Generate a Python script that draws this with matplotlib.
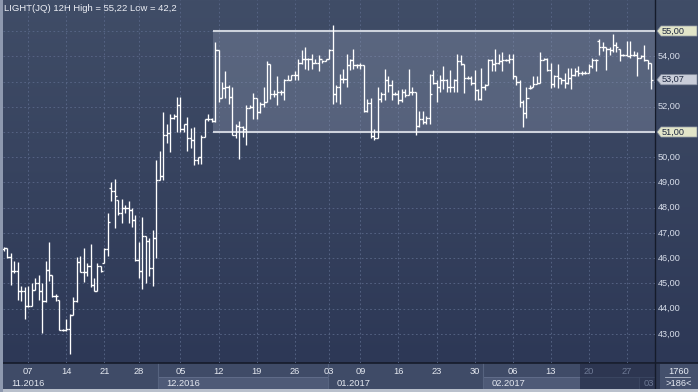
import matplotlib
matplotlib.use("Agg")
import matplotlib.pyplot as plt
import matplotlib.transforms as mtransforms
from matplotlib.patches import Rectangle, Polygon
import numpy as np

plt.rcParams['font.family'] = ['Liberation Sans', 'DejaVu Sans']

# 12H OHLC bars
opens = [46.35, 46.40, 46.05, 45.50, 45.50, 44.70, 44.70, 44.10, 44.10, 44.75,
         45.00, 44.70, 44.30, 45.55, 45.35, 44.50, 44.35, 43.15, 43.15, 43.20,
         43.75, 44.30, 45.85, 45.45, 45.45, 45.70, 44.95, 44.70, 45.70, 45.80,
         46.35, 48.80, 48.65, 48.30, 47.80, 48.00, 48.00, 47.90, 47.50, 45.95,
         45.50, 46.90, 46.70, 45.60, 46.80, 49.10, 49.25, 50.90, 50.95, 51.55,
         51.65, 52.05, 51.10, 51.30, 50.75, 50.70, 49.90, 50.00, 50.80, 51.50,
         51.50, 51.45, 54.25, 52.35, 52.75, 52.80, 52.40, 50.90, 51.25, 51.20,
         51.10, 51.95, 52.00, 52.35, 51.80, 52.10, 52.20, 53.70, 52.50, 52.50,
         52.60, 52.60, 53.05, 53.05, 53.25, 53.25, 53.75, 53.90, 53.90, 53.90,
         53.75, 53.75, 53.90, 53.80, 53.90, 54.25, 52.50, 52.80, 53.10, 53.10,
         53.65, 53.85, 53.65, 53.65, 53.65, 51.85, 52.15, 50.85, 50.75, 52.30,
         52.50, 53.05, 52.85, 52.50, 52.50, 52.25, 52.60, 52.45, 52.60, 52.60,
         51.25, 51.50, 51.40, 51.55, 53.25, 52.95, 52.80, 53.05, 53.05, 52.80,
         52.80, 53.05, 53.80, 53.70, 53.15, 53.15, 52.95, 52.65, 52.30, 52.80,
         52.85, 53.85, 53.70, 53.75, 53.80, 53.85, 53.85, 53.90, 53.20, 53.00,
         52.20, 51.75, 52.75, 52.80, 52.90, 52.95, 53.85, 53.90, 53.45, 52.90,
         53.20, 53.15, 53.05, 52.95, 53.15, 53.25, 53.40, 53.35, 53.35, 53.35,
         53.60, 53.85, 54.60, 54.35, 54.35, 54.30, 54.25, 54.45, 54.30, 54.05,
         54.05, 54.00, 54.05, 54.05, 53.95, 54.00, 53.85, 53.75]
highs = [46.45, 46.40, 46.20, 45.90, 45.85, 44.90, 44.85, 44.90, 45.00, 45.20,
         45.35, 45.00, 45.90, 46.65, 45.35, 44.60, 44.35, 43.20, 43.60, 43.80,
         44.45, 46.05, 46.10, 46.40, 45.80, 46.55, 45.20, 45.80, 45.70, 46.40,
         47.80, 49.00, 49.15, 48.30, 48.35, 48.10, 48.25, 48.00, 47.70, 46.65,
         47.65, 46.90, 46.80, 47.10, 49.90, 50.25, 51.80, 51.30, 51.70, 51.70,
         52.40, 52.40, 51.30, 51.60, 51.15, 51.20, 50.00, 50.90, 51.50, 51.70,
         51.55, 54.55, 54.25, 53.00, 53.40, 52.85, 52.80, 51.30, 51.45, 51.25,
         52.05, 52.05, 52.55, 52.35, 52.20, 52.80, 53.80, 53.70, 52.65, 53.20,
         52.65, 53.10, 53.25, 53.25, 53.40, 53.90, 54.25, 54.35, 53.95, 54.10,
         53.90, 54.05, 53.85, 53.90, 54.30, 55.22, 52.85, 53.30, 53.50, 54.10,
         53.90, 54.30, 53.70, 53.75, 53.65, 52.30, 52.35, 51.10, 52.80, 52.60,
         53.50, 53.20, 53.05, 52.60, 52.65, 52.70, 52.70, 53.50, 52.80, 52.60,
         51.85, 51.85, 51.65, 53.30, 53.45, 53.05, 53.25, 53.60, 53.10, 53.45,
         53.10, 54.10, 54.05, 53.70, 53.20, 53.20, 53.45, 52.70, 53.55, 52.90,
         53.90, 53.90, 54.30, 54.10, 54.15, 53.90, 54.10, 54.10, 53.20, 53.05,
         52.25, 52.80, 52.85, 53.20, 53.20, 54.15, 53.95, 53.95, 53.75, 53.25,
         53.70, 53.15, 53.35, 53.55, 53.55, 53.55, 53.60, 53.40, 53.40, 53.70,
         53.95, 53.90, 54.70, 54.55, 54.35, 54.35, 54.90, 54.55, 54.30, 54.10,
         54.60, 54.60, 54.20, 54.15, 54.05, 54.45, 53.85, 53.75]
lows = [46.30, 46.00, 44.95, 45.40, 44.35, 44.30, 43.60, 44.05, 44.10, 44.75,
        44.35, 43.05, 44.25, 45.10, 44.45, 44.30, 43.15, 43.10, 43.10, 42.20,
        43.75, 44.25, 45.45, 45.05, 45.30, 44.85, 44.70, 44.70, 45.45, 45.80,
        46.10, 48.25, 47.20, 47.70, 47.40, 47.80, 47.40, 47.25, 45.90, 45.20,
        44.80, 45.00, 45.30, 44.90, 46.00, 49.10, 49.10, 50.55, 50.20, 51.50,
        51.00, 51.00, 51.00, 50.25, 50.35, 49.70, 49.75, 49.75, 50.80, 51.45,
        51.40, 51.40, 52.20, 52.35, 52.35, 52.10, 50.90, 50.75, 49.95, 50.80,
        50.50, 51.95, 51.50, 51.50, 51.75, 52.00, 52.20, 52.30, 52.40, 52.05,
        52.45, 52.25, 53.05, 53.05, 53.05, 53.05, 53.70, 53.50, 53.45, 53.50,
        53.75, 53.40, 53.75, 53.80, 53.90, 52.10, 52.20, 52.10, 52.95, 52.80,
        53.45, 53.50, 53.55, 53.50, 51.80, 51.80, 50.75, 50.70, 50.75, 52.20,
        52.25, 52.60, 52.25, 52.45, 52.10, 52.20, 52.40, 52.45, 52.45, 50.90,
        51.20, 51.30, 51.30, 51.30, 52.90, 52.20, 52.60, 52.70, 52.60, 52.60,
        52.60, 52.60, 53.65, 52.55, 53.10, 52.85, 52.25, 52.25, 52.25, 52.65,
        52.85, 53.40, 53.40, 53.70, 53.40, 53.80, 53.75, 53.10, 52.85, 52.00,
        51.20, 51.55, 52.70, 52.80, 52.90, 52.95, 53.85, 53.40, 52.75, 52.80,
        52.75, 52.90, 52.75, 52.90, 52.70, 53.20, 53.20, 53.25, 53.30, 53.35,
        53.55, 53.40, 54.05, 54.20, 53.45, 54.05, 54.15, 54.15, 53.80, 54.00,
        54.00, 53.95, 54.00, 53.20, 53.95, 53.80, 53.50, 52.70]
closes = [46.40, 46.05, 45.50, 45.50, 44.70, 44.70, 44.10, 44.10, 44.75, 45.00,
          44.70, 44.30, 45.55, 45.35, 44.50, 44.50, 43.15, 43.15, 43.20, 43.75,
          44.30, 45.85, 45.45, 45.45, 45.70, 44.95, 44.70, 45.70, 45.50, 46.35,
          47.45, 48.65, 48.45, 47.80, 48.00, 48.00, 47.90, 47.50, 45.95, 45.50,
          46.90, 46.70, 45.60, 46.80, 49.10, 49.25, 50.90, 50.95, 51.55, 51.65,
          52.05, 51.10, 51.30, 50.75, 50.70, 49.90, 50.00, 50.80, 51.50, 51.50,
          51.45, 54.25, 52.35, 52.75, 52.80, 52.40, 50.90, 51.25, 51.20, 51.10,
          51.95, 52.00, 52.35, 51.80, 52.10, 52.20, 53.70, 52.50, 52.50, 52.60,
          52.60, 53.05, 53.05, 53.25, 53.25, 53.75, 53.90, 53.90, 53.90, 53.75,
          53.75, 53.90, 53.80, 53.90, 54.25, 52.50, 52.80, 53.10, 53.10, 53.65,
          53.85, 53.65, 53.65, 53.65, 51.85, 52.15, 50.85, 50.75, 52.30, 52.50,
          53.05, 52.85, 52.50, 52.50, 52.25, 52.60, 52.45, 52.60, 52.60, 51.25,
          51.50, 51.40, 51.55, 52.50, 52.95, 52.80, 53.05, 53.05, 52.80, 52.80,
          53.05, 53.80, 53.70, 53.15, 53.15, 52.95, 52.65, 52.30, 52.80, 52.85,
          53.85, 53.70, 53.75, 53.80, 53.85, 53.85, 53.90, 53.20, 53.00, 52.20,
          51.75, 52.35, 52.75, 52.90, 52.95, 53.85, 53.90, 53.45, 52.90, 53.20,
          53.15, 53.05, 52.95, 53.15, 53.25, 53.40, 53.35, 53.35, 53.35, 53.60,
          53.85, 53.85, 54.35, 54.35, 54.30, 54.25, 54.45, 54.35, 54.05, 54.05,
          54.00, 54.05, 54.05, 53.95, 54.00, 53.85, 53.75, 53.07]

week_ticks = [7, 18, 29, 39, 51, 62, 73, 84, 94, 103, 114, 125, 136, 147, 158, 169, 180]
week_labels = ['07', '14', '21', '28', '05', '12', '19', '26', '03',
               '09', '16', '23', '30', '06', '13', '20', '27']
month_starts = [0, 45, 94, 139, 184]
month_labels = ['11.2016', '12.2016', '01.2017', '02.2017', '03']
price_ticks = [43, 44, 45, 46, 47, 48, 49, 50, 51, 52, 53, 54, 55]
band_start = 60.4
band_high = 55.0
band_low = 51.0
title = 'LIGHT(JQ) 12H High = 55,22 Low = 42,2'

W, H = 698, 392
fig = plt.figure(figsize=(W / 100, H / 100), dpi=100, facecolor='#9BA5B8')

# pixel-space background axes for the window chrome
bg = fig.add_axes([0, 0, 1, 1])
bg.set_xlim(0, W)
bg.set_ylim(H, 0)
bg.axis('off')

grad = np.linspace(0, 1, 256).reshape(-1, 1)
top = np.array([64, 77, 103]) / 255
bot = np.array([45, 56, 86]) / 255
img = top + (bot - top) * grad[..., None]
img = img.reshape(256, 1, 3)
bg.imshow(img, extent=(3, W, 363, 0), aspect='auto', zorder=0)

# x axis panel
bg.add_patch(Rectangle((3, 363), W - 3, 26, fc='#3F4B67', ec='none', zorder=1))
bg.add_patch(Rectangle((655, 363), W - 655, 26, fc='#44506C', ec='none', zorder=1))

# main price axes
ax = fig.add_axes([3 / W, (H - 363) / H, 652 / W, 363 / H])
ax.patch.set_alpha(0)
ax.set_xlim(-0.29, 188.15)
ax.set_ylim(41.851, 56.228)
ax.axis('off')

for p in price_ticks:
    ax.axhline(p, color='#5A6889', lw=0.6, ls=(0, (2, 3)), zorder=1)
for t in week_ticks:
    ax.axvline(t, color='#5A6889', lw=0.6, ls=(0, (2, 3)), zorder=1)

ax.add_patch(Rectangle((band_start, band_low), 200, band_high - band_low,
                       fc='#A3ADC4', alpha=0.28, ec='none', zorder=2))
ax.hlines([band_high, band_low], band_start, 188.15, color='#CDD2DC', lw=1.5, zorder=3)

x = np.arange(len(closes))
ax.vlines(x, lows, highs, color='white', lw=0.95, zorder=4)
ax.hlines(opens, x - 0.6, x, color='white', lw=0.95, zorder=4)
ax.hlines(closes, x, x + 0.6, color='white', lw=0.95, zorder=4)

# right price scale
ytr = mtransforms.blended_transform_factory(bg.transData, ax.transData)
last = closes[-1]
for p in price_ticks:
    if p in (band_high, band_low) or abs(p - last) < 0.4:
        continue
    fig.text(658, p, f'{p:.2f}'.replace('.', ','), transform=ytr, color='#D8DEEA',
             fontsize=6.6, ha='left', va='center')

for v, fc in [(band_high, '#E2E5C9'), (last, '#C9CDD9'), (band_low, '#E2E5C9')]:
    poly = Polygon([(657, v), (661, v + 0.2), (697, v + 0.2), (697, v - 0.2), (661, v - 0.2)],
                   closed=True, transform=ytr, fc=fc, ec='#8890A0', lw=0.5, zorder=5)
    fig.add_artist(poly)
    fig.text(661.5, v, f'{v:.2f}'.replace('.', ','), transform=ytr, color='#1E2840',
             fontsize=6.6, ha='left', va='center', zorder=6)

# bottom time scale
xtr = mtransforms.blended_transform_factory(ax.transData, bg.transData)
bg.add_patch(Rectangle((month_starts[1] - 0.5, 377), month_starts[2] - month_starts[1], 12,
                       transform=xtr, fc='#4E5A77', ec='#65718D', lw=0.6, zorder=2))
bg.add_patch(Rectangle((month_starts[3] - 0.5, 377), month_starts[4] - month_starts[3], 12,
                       transform=xtr, fc='#4E5A77', ec='#65718D', lw=0.6, zorder=2))
for m in month_starts[1:4]:
    bg.plot([m - 0.5, m - 0.5], [363, 389], transform=xtr, color='#56637F', lw=0.8, zorder=2)

shade_from = 167
for t, lab in zip(week_ticks, week_labels):
    col = '#6D7994' if t >= shade_from else '#E4E8F0'
    bg.text(t, 371, lab, transform=xtr, color=col, fontsize=6.7, ha='center', va='center', zorder=4)
for m, lab in zip(month_starts[:4], month_labels[:4]):
    bg.text(m + 2, 383, lab, transform=xtr, color='#E4E8F0', fontsize=6.7,
            ha='left', va='center', zorder=4)

bg.add_patch(Rectangle((shade_from - 0.5, 363.5), 190 - shade_from, 25.5, transform=xtr,
                       fc='#27304A', alpha=0.75, ec='none', zorder=3))
bg.plot([shade_from - 0.5, 188.15], [377, 377], transform=xtr, color='#3C4762', lw=0.6, zorder=3)
bg.plot([month_starts[4] - 0.5] * 2, [377, 389], transform=xtr, color='#3C4762', lw=0.6, zorder=3)
bg.text(month_starts[4] + 1, 383, month_labels[4], transform=xtr, color='#6D7994',
        fontsize=6.7, ha='left', va='center', zorder=4)

# frame lines
bg.plot([3, W], [363, 363], color='#151B2A', lw=1.2, zorder=5)
bg.plot([655, 655], [0, 389], color='#151B2A', lw=1.0, zorder=5)
bg.add_patch(Rectangle((0, 389), W, 3, fc='#B9C0CC', ec='none', zorder=6))
bg.add_patch(Rectangle((0, 0), 3, 392, fc='#8E99AF', ec='none', zorder=6))

# corner counters
bg.text(679, 371, '1760', color='#E8ECF4', fontsize=6.7, ha='center', va='center', zorder=6)
bg.plot([665, 690], [377, 377], color='#B8C0D0', lw=0.6, zorder=6)
bg.text(679, 383, '>186<', color='#E8ECF4', fontsize=6.7, ha='center', va='center', zorder=6)

bg.text(4, 8, title, color='#EEF0F6', fontsize=6.8, ha='left', va='center', zorder=6)

fig.savefig('out.png', dpi=100, facecolor=fig.get_facecolor())
